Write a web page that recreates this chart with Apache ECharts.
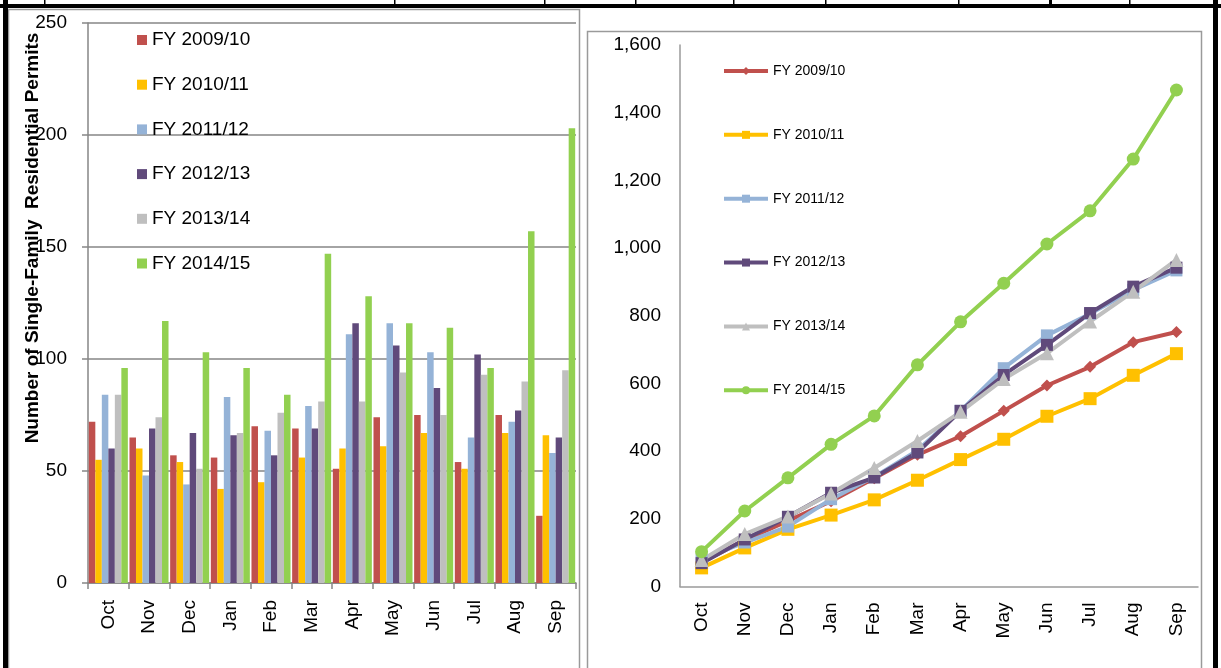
<!DOCTYPE html>
<html>
<head>
<meta charset="utf-8">
<script src="https://cdn.jsdelivr.net/npm/echarts@6/dist/echarts.min.js"></script>
<style>
html,body{margin:0;padding:0;background:#fff;}
#c{width:1221px;height:668px;}
</style>
</head>
<body>
<div id="c"></div>
<script>
// ---- data ----
var months = ['Oct','Nov','Dec','Jan','Feb','Mar','Apr','May','Jun','Jul','Aug','Sep'];
var seriesNames = ['FY 2009/10','FY 2010/11','FY 2011/12','FY 2012/13','FY 2013/14','FY 2014/15'];
var barYTicks = [0, 250, 50];      // min, max, interval
var lineYTicks = [0, 1600, 200];   // min, max, interval
var axisTitle = 'Number of Single-Family  Residential Permits';

// monthly permits
var monthly0910 = [72, 65, 57, 56, 70, 69, 51, 74, 75, 54, 75, 30];
var monthly1011 = [55, 60, 54, 42, 45, 56, 60, 61, 67, 51, 67, 66];
var monthly1112 = [84, 48, 44, 83, 68, 79, 111, 116, 103, 65, 72, 58];
var monthly1213 = [60, 69, 67, 66, 57, 69, 116, 106, 87, 102, 77, 65];
var monthly1314 = [84, 74, 51, 67, 76, 81, 81, 94, 75, 93, 90, 95];
var monthly1415 = [96, 117, 103, 96, 84, 147, 128, 116, 114, 96, 157, 203];

// cumulative permits
var cumul0910 = [72, 137, 194, 252, 320, 389, 444, 519, 594, 649, 722, 752];
var cumul1011 = [55, 114, 169, 211, 256, 314, 375, 435, 503, 555, 624, 688];
var cumul1112 = [80, 130, 177, 258, 324, 402, 519, 645, 742, 806, 876, 934];
var cumul1213 = [69, 139, 206, 277, 322, 396, 519, 625, 714, 808, 886, 942];
var cumul1314 = [78, 155, 207, 275, 350, 430, 516, 613, 689, 783, 871, 965];
var cumul1415 = [103, 223, 321, 420, 504, 655, 782, 896, 1012, 1110, 1263, 1467];

// ---- styling ----
var colors = ['#C0504D', '#FFC000', '#95B3D7', '#604A7B', '#BFBFBF', '#92D050'];
var symbols = ['diamond', 'rect', 'rect', 'rect', 'triangle', 'circle'];
var symbolSizes = [12, 13, 12, 12, 14, 13];
var FONT = 'Liberation Sans';
var axisGray = '#868686';

var monthlyAll = [monthly0910, monthly1011, monthly1112, monthly1213, monthly1314, monthly1415];
var cumulAll = [cumul0910, cumul1011, cumul1112, cumul1213, cumul1314, cumul1415];

var series = [];
seriesNames.forEach(function (n, i) {
  series.push({
    name: n, type: 'bar', xAxisIndex: 0, yAxisIndex: 0,
    data: monthlyAll[i], barGap: '0%', barCategoryGap: '4%',
    itemStyle: { color: colors[i] }, animation: false
  });
});
seriesNames.forEach(function (n, i) {
  series.push({
    name: n + ' ', type: 'line', xAxisIndex: 1, yAxisIndex: 1,
    data: cumulAll[i], symbol: symbols[i], symbolSize: symbolSizes[i],
    lineStyle: { color: colors[i], width: 4 },
    itemStyle: { color: colors[i] }, animation: false
  });
});

var chart = echarts.init(document.getElementById('c'), null, { renderer: 'canvas' });
chart.setOption({
  animation: false,
  textStyle: { fontFamily: FONT },
  grid: [
    { left: 88, top: 23, width: 488, height: 560 },
    { left: 680, top: 45, width: 518, height: 541.5 }
  ],
  legend: [
    {
      data: seriesNames, orient: 'vertical', left: 137, top: 30, padding: 0,
      itemWidth: 10, itemHeight: 10, itemGap: 24.7,
      icon: 'rect',
      textStyle: { fontFamily: FONT, fontSize: 19, color: '#000', lineHeight: 20 }
    },
    {
      data: seriesNames.map(function (n) { return n + ' '; }),
      orient: 'vertical', left: 722, top: 63, padding: 0,
      itemWidth: 44, itemHeight: 10, itemGap: 47.85,
      lineStyle: { width: 4 },
      formatter: function (n) { return n.trim(); },
      textStyle: { fontFamily: FONT, fontSize: 14, color: '#000', lineHeight: 16 }
    }
  ],
  xAxis: [
    {
      type: 'category', gridIndex: 0, data: months,
      axisLine: { lineStyle: { color: axisGray, width: 1.5 } },
      axisTick: { show: true, length: 6, lineStyle: { color: axisGray, width: 1.5 } },
      axisLabel: { rotate: 90, fontSize: 19, color: '#000', fontFamily: FONT, margin: 17 }
    },
    {
      type: 'category', gridIndex: 1, data: months, boundaryGap: true,
      axisLine: { lineStyle: { color: '#9a9a9a', width: 1.5 } },
      axisTick: { show: false },
      axisLabel: { rotate: 90, fontSize: 19, color: '#000', fontFamily: FONT, margin: 16 }
    }
  ],
  yAxis: [
    {
      type: 'value', gridIndex: 0, min: barYTicks[0], max: barYTicks[1], interval: barYTicks[2],
      axisLine: { show: true, lineStyle: { color: axisGray, width: 1.5 } },
      axisTick: { show: true, length: 6, lineStyle: { color: axisGray, width: 1.5 } },
      splitLine: { show: true, lineStyle: { color: axisGray, width: 1.5 } },
      axisLabel: { fontSize: 19, color: '#000', fontFamily: FONT, margin: 21 }
    },
    {
      type: 'value', gridIndex: 1, min: lineYTicks[0], max: lineYTicks[1], interval: lineYTicks[2],
      axisLine: { show: true, lineStyle: { color: '#9a9a9a', width: 1.5 } },
      axisTick: { show: false },
      splitLine: { show: false },
      axisLabel: {
        fontSize: 19, color: '#000', fontFamily: FONT, margin: 19,
        formatter: function (v) { return v.toLocaleString('en-US'); }
      }
    }
  ],
  graphic: [
    // panel borders
    { type: 'rect', shape: { x: 8.5, y: 9.5, width: 571, height: 670 }, style: { fill: 'none', stroke: '#9a9a9a', lineWidth: 1.5 }, z: 0 },
    { type: 'rect', shape: { x: 587.5, y: 31.5, width: 614, height: 650 }, style: { fill: 'none', stroke: '#9a9a9a', lineWidth: 1.5 }, z: 0 },
    // surrounding table lines
    { type: 'rect', shape: { x: 0, y: 4, width: 1221, height: 4 }, style: { fill: '#000' }, z: 100 },
    { type: 'rect', shape: { x: 3, y: 0, width: 5, height: 668 }, style: { fill: '#000' }, z: 100 },
    { type: 'rect', shape: { x: 1213, y: 0, width: 5, height: 668 }, style: { fill: '#000' }, z: 100 },
    { type: 'rect', shape: { x: 44, y: 0, width: 1.5, height: 5 }, style: { fill: '#000' }, z: 100 },
    { type: 'rect', shape: { x: 394, y: 0, width: 1.5, height: 5 }, style: { fill: '#000' }, z: 100 },
    { type: 'rect', shape: { x: 544, y: 0, width: 1.5, height: 5 }, style: { fill: '#000' }, z: 100 },
    { type: 'rect', shape: { x: 635, y: 0, width: 1.5, height: 5 }, style: { fill: '#000' }, z: 100 },
    { type: 'rect', shape: { x: 733, y: 0, width: 1.5, height: 5 }, style: { fill: '#000' }, z: 100 },
    { type: 'rect', shape: { x: 825, y: 0, width: 1.5, height: 5 }, style: { fill: '#000' }, z: 100 },
    { type: 'rect', shape: { x: 958, y: 0, width: 1.5, height: 5 }, style: { fill: '#000' }, z: 100 },
    { type: 'rect', shape: { x: 1049, y: 0, width: 3, height: 5 }, style: { fill: '#000' }, z: 100 },
    { type: 'rect', shape: { x: 1129, y: 0, width: 1.5, height: 5 }, style: { fill: '#000' }, z: 100 },
    // y-axis title of the bar chart
    {
      type: 'text', x: 33, y: 238, rotation: Math.PI / 2, z: 100,
      style: { text: axisTitle, font: 'bold 19px "Liberation Sans"', fill: '#000', align: 'center', verticalAlign: 'middle' }
    }
  ],
  series: series
});
</script>
</body>
</html>
